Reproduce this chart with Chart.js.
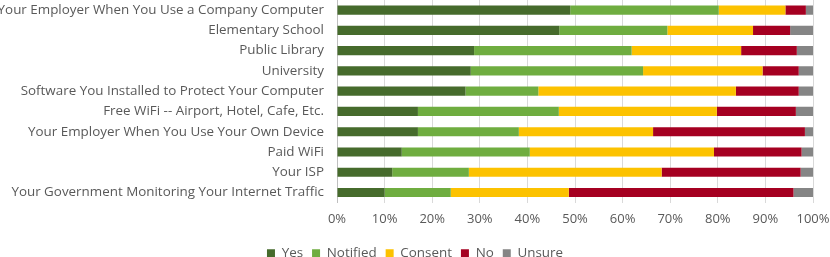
<!DOCTYPE html>
<html>
<head>
<meta charset="utf-8">
<script src="https://cdn.jsdelivr.net/npm/chart.js@4"></script>
<style>
  body { margin: 0; background: #fff; }
  #wrap { width: 830px; height: 257px; }
</style>
</head>
<body>
<div id="wrap"><canvas id="myChart" width="830" height="257"></canvas></div>
<script>
// categories, top to bottom
var categories = [
  "Your Employer When You Use a Company Computer",
  "Elementary School",
  "Public Library",
  "University",
  "Software You Installed to Protect Your Computer",
  "Free WiFi -- Airport, Hotel, Cafe, Etc.",
  "Your Employer When You Use Your Own Device",
  "Paid WiFi",
  "Your ISP",
  "Your Government Monitoring Your Internet Traffic"
];

// percent of responses per category
var yes      = [49.0, 46.7, 28.8, 28.1, 27.0, 17.0, 17.0, 13.6, 11.6, 10.0];
var notified = [31.2, 22.7, 33.1, 36.2, 15.3, 29.6, 21.2, 26.9, 16.1, 13.9];
var consent  = [14.0, 18.0, 23.0, 25.1, 41.5, 33.2, 28.2, 38.7, 40.5, 24.8];
var no       = [ 4.3,  7.8, 11.7,  7.6, 13.2, 16.6, 31.9, 18.4, 29.2, 47.2];
var unsure   = [ 1.5,  4.8,  3.4,  3.0,  3.0,  3.6,  1.7,  2.4,  2.6,  4.1];

var tickValues = [0, 10, 20, 30, 40, 50, 60, 70, 80, 90, 100];

var font = "'Open Sans', sans-serif";
var textColor = "#595959";

function makeSet(label, data, color) {
  return {
    label: label,
    data: data,
    backgroundColor: color,
    borderWidth: 0,
    barPercentage: 0.45,
    categoryPercentage: 1.0
  };
}

var canvas = document.getElementById("myChart");
var myChart = new Chart(canvas, {
  type: 'bar',
  data: {
    labels: categories,
    datasets: [
      makeSet("Yes", yes, "#466b2c"),
      makeSet("Notified", notified, "#6fad40"),
      makeSet("Consent", consent, "#fcc200"),
      makeSet("No", no, "#a50021"),
      makeSet("Unsure", unsure, "#858585")
    ]
  },
  options: {
    indexAxis: 'y',
    responsive: false,
    animation: false,
    layout: { padding: { left: 0, right: 0, top: 0, bottom: -13 } },
    scales: {
      x: {
        stacked: true,
        min: 0,
        max: 100,
        afterBuildTicks: function (axis) {
          axis.ticks = tickValues.map(function (v) { return { value: v }; });
        },
        afterFit: function (scale) {
          scale.height = 35;
          scale.paddingLeft = 0;
          scale.paddingRight = 17;
        },
        ticks: {
          callback: function (v) { return v + "%"; },
          color: textColor,
          font: { family: font, size: 13 },
          padding: 9,
          maxRotation: 0
        },
        grid: { color: "#d9d9d9", drawTicks: false },
        border: { display: false }
      },
      y: {
        stacked: true,
        afterFit: function (scale) {
          // fixed label column, no extra room above / below the bars
          scale.width = 337;
          scale.paddingTop = 0;
          scale.paddingBottom = 0;
        },
        ticks: {
          color: textColor,
          font: { family: font, size: 13.4 },
          padding: 13,
          autoSkip: false
        },
        grid: { display: false, drawTicks: false },
        border: { display: true, color: "#bfbfbf" }
      }
    },
    plugins: {
      legend: {
        position: 'bottom',
        labels: {
          color: textColor,
          font: { family: font, size: 13.4 },
          boxWidth: 8,
          boxHeight: 8,
          padding: 9
        }
      },
      tooltip: { enabled: false }
    }
  }
});
</script>
</body>
</html>
